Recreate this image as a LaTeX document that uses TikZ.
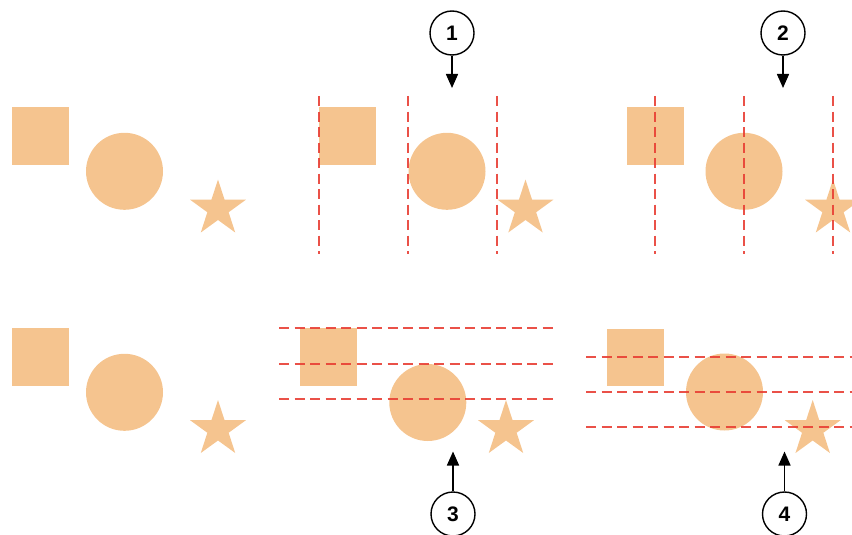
\documentclass[tikz,border=0pt]{standalone}
\usepackage{fontspec}
\setmainfont{Liberation Sans}
\usetikzlibrary{arrows.meta}
\definecolor{shapeorange}{RGB}{245,196,143}
\definecolor{guidered}{RGB}{232,62,52}
\newcommand\mysq[2]{\fill[shp] (#1,#2) rectangle ++(57,57.5);}
\newcommand\myball[2]{\fill[shp] (#1,#2) circle[radius=38.5];}
\newcommand\mystar[2]{\fill[shp] (#1,#2) +(-90:29.3) -- +(-54:11.2) -- +(-18:29.3) -- +(18:11.2) -- +(54:29.3) -- +(90:11.2) -- +(126:29.3) -- +(162:11.2) -- +(198:29.3) -- +(234:11.2) -- cycle;}
\begin{document}
\begin{tikzpicture}[x=1pt,y=-1pt,
  shp/.style={fill=shapeorange},
  guide/.style={draw=guidered, line width=2.5pt, dash pattern=on 10pt off 5.5pt, opacity=0.9},
  callout/.style={circle, draw=black, line width=1.4pt, fill=white, minimum size=44pt, inner sep=0pt, font=\bfseries\fontsize{21}{21}\selectfont},
  pointer/.style={-{Triangle[length=14pt,width=12pt]}, line width=1.5pt}]
\useasboundingbox (0,0) rectangle (852,535);
% panel 1
\mysq{12}{107}
\myball{124.5}{171.3}
\mystar{218}{208.8}
% panel 2 (distribute left)
\mysq{319}{107}
\myball{447}{171.3}
\mystar{525.5}{208.8}
\foreach \x in {319,408,497} \draw[guide] (\x,96) -- (\x,254);
% panel 3 (distribute centres)
\mysq{626.5}{107}
\myball{744}{171.3}
\mystar{833}{208.8}
\foreach \x in {655,744,833} \draw[guide] (\x,96) -- (\x,254);
% panel 4
\mysq{12}{328}
\myball{124.5}{392.3}
\mystar{218}{429.3}
% panel 5 (distribute top)
\mysq{300}{328}
\myball{427.8}{402.5}
\mystar{506}{429.3}
\foreach \y in {328,364,399} \draw[guide] (279,\y) -- (556,\y);
% panel 6 (distribute centres)
\mysq{606.5}{328.5}
\myball{724.5}{392}
\mystar{812.7}{429.3}
\foreach \y in {357,392,427} \draw[guide] (586,\y) -- (860,\y);
% callouts
\node[callout] (c1) at (452,33) {1};
\node[callout] (c2) at (783,33) {2};
\node[callout] (c3) at (453,514) {3};
\node[callout] (c4) at (784.5,514) {4};
\coordinate (t1) at (452,88);
\coordinate (t2) at (783,88);
\coordinate (t3) at (453,451.5);
\coordinate (t4) at (784.5,451.5);
\draw[pointer] (c1) -- (t1);
\draw[pointer] (c2) -- (t2);
\draw[pointer] (c3) -- (t3);
\draw[pointer] (c4) -- (t4);
\end{tikzpicture}
\end{document}
